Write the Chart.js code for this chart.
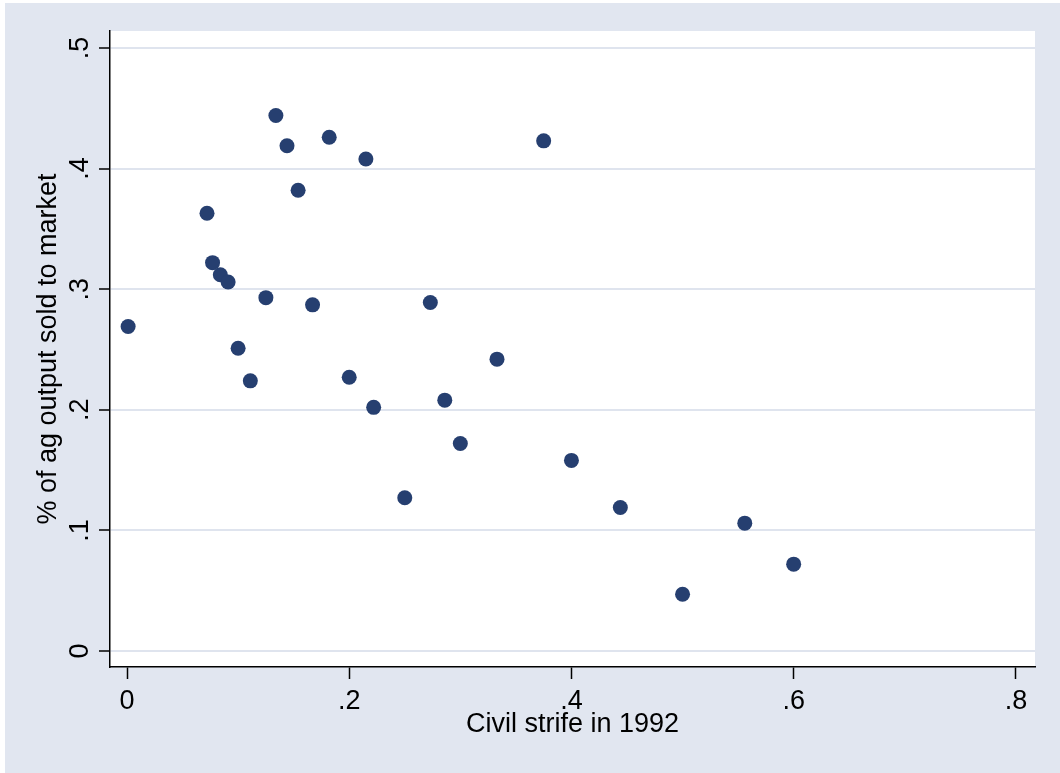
<!DOCTYPE html>
<html>
<head>
<meta charset="utf-8">
<script src="https://cdn.jsdelivr.net/npm/chart.js@4.4.1/dist/chart.umd.min.js"></script>
<style>
  html, body { margin: 0; padding: 0; background: #fff; overflow: hidden; }
  canvas { display: block; }
</style>
</head>
<body>
<canvas id="scatter" width="1060" height="773"></canvas>
<script>
// values
const strife = [0.001, 0.072, 0.077, 0.084, 0.091, 0.100, 0.111, 0.125, 0.134, 0.144, 0.154, 0.167, 0.182, 0.200,
  0.215, 0.222, 0.250, 0.273, 0.286, 0.300, 0.333, 0.375, 0.400, 0.444, 0.500, 0.556, 0.600];
const soldShare = [0.269, 0.363, 0.322, 0.312, 0.306, 0.251, 0.224, 0.293, 0.444, 0.419, 0.382, 0.287, 0.426, 0.227,
  0.408, 0.202, 0.127, 0.289, 0.208, 0.172, 0.242, 0.423, 0.158, 0.119, 0.047, 0.106, 0.072];

const xTicks = [0, 0.2, 0.4, 0.6, 0.8];
const xTickLabels = ["0", ".2", ".4", ".6", ".8"];
const yTicks = [0, 0.1, 0.2, 0.3, 0.4, 0.5];
const yTickLabels = ["0", ".1", ".2", ".3", ".4", ".5"];

const FONT = "'Liberation Sans', Arial, sans-serif";
const BG = "#e1e6f0";
const GRID = "#dfe4ee";
const DOT = "#263f70";

const points = strife.map((x, i) => ({ x: x, y: soldShare[i] }));

// stata-ish backdrop: light blue graph region, white plot region
const backdrop = {
  id: "backdrop",
  beforeDraw(chart) {
    const { ctx, chartArea } = chart;
    ctx.save();
    ctx.fillStyle = "#fff";
    ctx.fillRect(0, 0, chart.width, chart.height);
    ctx.fillStyle = BG;
    ctx.fillRect(5, 3, chart.width - 5, chart.height - 3);
    ctx.fillStyle = "#fff";
    ctx.fillRect(chartArea.left, chartArea.top, chartArea.right - chartArea.left, chartArea.bottom - chartArea.top);
    ctx.restore();
  },
};

// y tick labels are vertical in the original
const verticalYLabels = {
  id: "verticalYLabels",
  afterDraw(chart) {
    const { ctx } = chart;
    const y = chart.scales.y;
    ctx.save();
    ctx.fillStyle = "#000";
    ctx.font = "27px " + FONT;
    ctx.textAlign = "center";
    ctx.textBaseline = "alphabetic";
    yTicks.forEach((v, i) => {
      ctx.save();
      ctx.translate(88, y.getPixelForValue(v));
      ctx.rotate(-Math.PI / 2);
      ctx.fillText(yTickLabels[i], 0, 0);
      ctx.restore();
    });
    ctx.restore();
  },
};

new Chart(document.getElementById("scatter"), {
  type: "scatter",
  data: {
    datasets: [
      {
        data: points,
        backgroundColor: DOT,
        borderColor: DOT,
        borderWidth: 0,
        pointRadius: 7.5,
        pointHoverRadius: 7.5,
      },
    ],
  },
  options: {
    responsive: false,
    animation: false,
    devicePixelRatio: 1,
    layout: { padding: { top: 31, right: 25, bottom: 0, left: 0 } },
    plugins: {
      legend: { display: false },
      tooltip: { enabled: false },
    },
    scales: {
      x: {
        type: "linear",
        min: -0.0153,
        max: 0.8172,
        afterBuildTicks: (s) => {
          s.ticks = xTicks.map((v) => ({ value: v }));
        },
        afterFit: (s) => {
          s.height = 106;
        },
        grid: {
          drawOnChartArea: false,
          tickColor: "#000",
          tickLength: 12,
          tickWidth: 1.5,
        },
        border: { color: "#000", width: 1.5 },
        ticks: {
          color: "#000",
          font: { family: FONT, size: 27 },
          padding: 6,
          maxRotation: 0,
          callback: (v, i) => xTickLabels[i],
        },
        title: {
          display: true,
          text: "Civil strife in 1992",
          color: "#000",
          font: { family: FONT, size: 27 },
          padding: { top: 0, bottom: 32 },
        },
      },
      y: {
        type: "linear",
        min: -0.0133,
        max: 0.5141,
        afterBuildTicks: (s) => {
          s.ticks = yTicks.map((v) => ({ value: v }));
        },
        afterFit: (s) => {
          s.width = 110;
        },
        grid: {
          color: GRID,
          lineWidth: 2,
          tickColor: "#000",
          tickLength: 11,
          tickWidth: 1.5,
        },
        border: { color: "#000", width: 1.5 },
        ticks: { display: false },
        title: {
          display: true,
          text: "% of ag output sold to market",
          color: "#000",
          font: { family: FONT, size: 27 },
          padding: { top: 32, bottom: 0 },
        },
      },
    },
  },
  plugins: [backdrop, verticalYLabels],
});
</script>
</body>
</html>
